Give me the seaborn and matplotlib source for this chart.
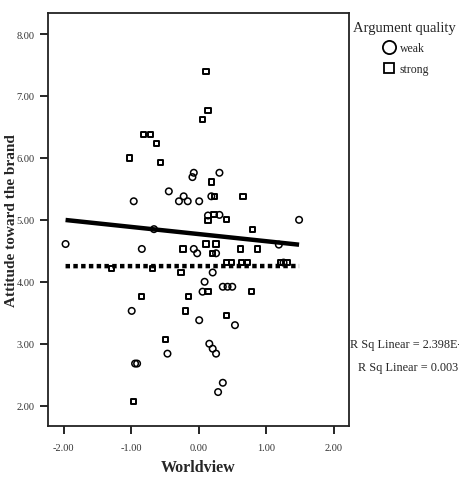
import numpy as np
import pandas as pd
import seaborn as sns
import matplotlib.pyplot as plt
from matplotlib.lines import Line2D

# Pontos (Worldview, Attitude toward the brand)
weak_x = [-1.97, -0.96, -0.84, -0.66, -0.44, -0.29, -0.22, -0.16, -0.07, -0.09,
          0.01, 0.31, 0.19, 0.14, 0.31, -0.07, -0.02, 0.26, 1.49, 1.19,
          0.21, 0.09, 0.06, 0.36, 0.43, 0.50, -0.99, 0.01, 0.54, -0.46,
          0.16, 0.21, 0.26, -0.94, -0.91, 0.36, 0.29, 1.26]
weak_y = [4.61, 5.30, 4.53, 4.85, 5.46, 5.30, 5.38, 5.30, 5.76, 5.69,
          5.30, 5.76, 5.38, 5.07, 5.08, 4.53, 4.46, 4.46, 5.00, 4.60,
          4.15, 4.00, 3.84, 3.92, 3.92, 3.92, 3.53, 3.38, 3.30, 2.84,
          3.00, 2.92, 2.84, 2.68, 2.68, 2.37, 2.22, 4.31]

strong_x = [0.11, 0.14, 0.06, -0.81, -0.71, -0.62, -1.02, -0.56, 0.19, 0.24,
            0.66, 0.14, 0.23, 0.42, 0.80, -0.23, 0.11, 0.26, 0.21, 0.62,
            0.87, -0.68, -0.26, 0.14, -0.84, -0.15, -0.19, 0.41, 0.79, -0.49,
            -0.96, 0.42, 0.49, 0.64, 0.73, 1.21, 1.31, -1.29]
strong_y = [7.39, 6.77, 6.62, 6.38, 6.38, 6.23, 6.00, 5.92, 5.61, 5.38,
            5.38, 4.99, 5.08, 5.00, 4.84, 4.53, 4.61, 4.61, 4.46, 4.53,
            4.53, 4.22, 4.15, 3.84, 3.76, 3.76, 3.53, 3.45, 3.84, 3.07,
            2.07, 4.31, 4.31, 4.31, 4.31, 4.31, 4.31, 4.22]

grupos = ['weak', 'strong']
marcadores = {'weak': 'o', 'strong': 's'}
r2_textos = ['R Sq Linear = 2.398E-4', 'R Sq Linear = 0.003']

dados = pd.DataFrame({
    'Worldview': weak_x + strong_x,
    'Attitude': weak_y + strong_y,
    'Argument quality': ['weak'] * len(weak_x) + ['strong'] * len(strong_x),
})

sns.set_style('ticks')
plt.rcParams['font.family'] = ['Liberation Serif', 'DejaVu Serif']

fig = plt.figure(figsize=(4.59, 4.81), dpi=100)
ax = fig.add_axes([0.1046, 0.112, 0.6558, 0.859])

# Pontos de cada grupo
for g in grupos:
    sub = dados[dados['Argument quality'] == g]
    sns.scatterplot(data=sub, x='Worldview', y='Attitude', marker=marcadores[g],
                    s=22 if g == 'weak' else 14, facecolor='none', edgecolor='black',
                    linewidth=1.1 if g == 'weak' else 1.4, ax=ax, legend=False, zorder=3)

# Retas de ajuste linear (SPSS desenha no intervalo total de x)
xs = np.array([dados['Worldview'].min(), dados['Worldview'].max()])
estilos = {'weak': (0, (1.0, 0.75)), 'strong': '-'}
for g in grupos:
    sub = dados[dados['Argument quality'] == g]
    b, a = np.polyfit(sub['Worldview'], sub['Attitude'], 1)
    ax.plot(xs, a + b * xs, color='black', linewidth=3.2, linestyle=estilos[g],
            solid_capstyle='butt', dash_capstyle='butt', zorder=4)

ax.set_xlim(-2.23, 2.23)
ax.set_ylim(1.67, 8.34)
ax.set_xticks([-2, -1, 0, 1, 2])
ax.set_yticks([2, 3, 4, 5, 6, 7, 8])
ax.xaxis.set_major_formatter(plt.FormatStrFormatter('%.2f'))
ax.yaxis.set_major_formatter(plt.FormatStrFormatter('%.2f'))
ax.tick_params(direction='out', length=6, width=1.2, labelsize=7.5,
               labelcolor='#333333', color='black')
ax.tick_params(axis='x', pad=6)
for s in ax.spines.values():
    s.set_visible(True)
    s.set_linewidth(1.3)
    s.set_color('#222222')

ax.set_xlabel('Worldview', fontsize=11.5, fontweight='bold', labelpad=5)
ax.set_ylabel('Attitude toward the brand', fontsize=11, fontweight='bold')
ax.yaxis.set_label_coords(-0.1, 0.5)

# Legenda à direita
handles = [Line2D([], [], marker='o', linestyle='none', markerfacecolor='none',
                  markeredgecolor='black', markersize=9.5, markeredgewidth=1.3),
           Line2D([], [], marker='s', linestyle='none', markerfacecolor='none',
                  markeredgecolor='black', markersize=7.5, markeredgewidth=1.3)]
leg = fig.legend(handles, grupos, title='Argument quality', loc='upper left',
                 bbox_to_anchor=(0.752, 0.972), frameon=False, fontsize=8.5,
                 title_fontsize=10.5, handletextpad=0.15, labelspacing=0.75,
                 borderpad=0.2, handlelength=1.5)
leg._legend_box.align = 'center'
leg._legend_box.sep = 6

fig.text(0.762, 0.283, r2_textos[0], fontsize=8.8, ha='left', va='center')
fig.text(0.78, 0.235, r2_textos[1], fontsize=8.8, ha='left', va='center')

fig.savefig('out.png', dpi=100)
